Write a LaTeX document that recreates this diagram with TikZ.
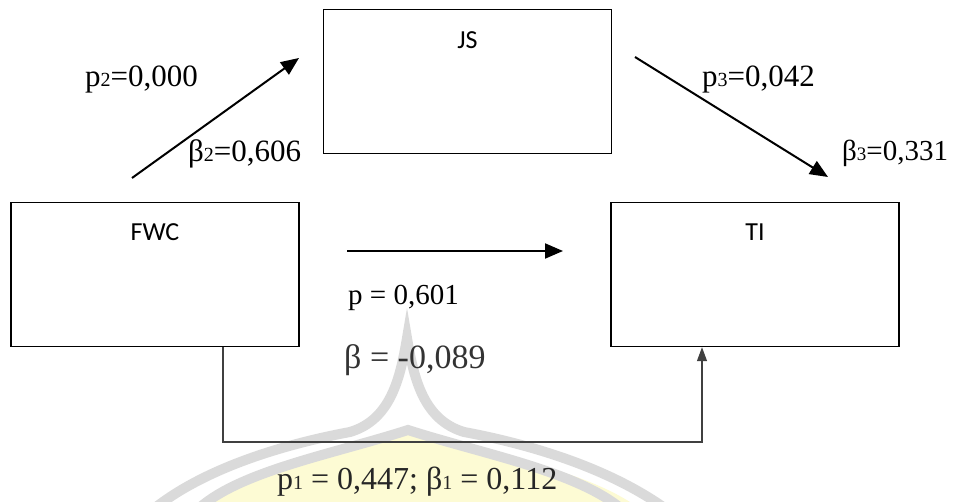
\documentclass[tikz,border=0pt]{standalone}
\usepackage{fontspec}
\setmainfont{Liberation Serif}
\newfontfamily\boxfont{Carlito}
\usetikzlibrary{arrows.meta}
\newcommand\mysub[1]{{\fontsize{20}{20}\selectfont #1}}
\definecolor{wmgray}{RGB}{218,218,218}
\definecolor{wmyellow}{RGB}{253,251,212}
\begin{document}
\begin{tikzpicture}[x=1pt,y=-1pt,
  vbox/.style={draw, line width=1.4pt, minimum width=288pt, minimum height=144pt, inner sep=0pt},
  boxlabel/.style={font=\boxfont\fontsize{26}{26}\selectfont, anchor=center, inner sep=0pt},
  lab/.style={font=\fontsize{31}{31}\selectfont, anchor=base west, inner sep=0pt},
  mainarrow/.style={line width=2pt, -{Triangle[length=18pt,width=15pt]}},
  elbow/.style={draw=black!75, line width=1.2pt, -{Triangle[length=14pt,width=10pt]}},
  wmline/.style={draw=wmgray, line width=10pt, line cap=round}
]
\useasboundingbox (0,0) rectangle (962,502);
% faint watermark
\fill[wmyellow] (200,502) .. controls (240,468) and (330,452) .. (408,432)
  .. controls (486,452) and (576,468) .. (630,502) -- cycle;
\draw[wmline] (150,512) .. controls (200,470) and (280,445) .. (350,432)
  .. controls (390,420) and (400,380) .. (407,338)
  .. controls (414,380) and (424,420) .. (464,432)
  .. controls (534,445) and (614,470) .. (670,512);
\draw[wmline] (195,512) .. controls (235,472) and (330,455) .. (408,430)
  .. controls (486,455) and (581,472) .. (625,512);
% boxes
\node[vbox, label={[boxlabel, yshift=-31pt]north:JS}] (js) at (467.5,81.5) {};
\node[vbox, label={[boxlabel, yshift=-30pt]north:FWC}] (fwc) at (155,274.5) {};
\node[vbox, label={[boxlabel, yshift=-30pt]north:TI}] (ti) at (755,274.5) {};
% arrows
\coordinate (a1s) at (132,178); \coordinate (a1e) at (299,58);
\coordinate (a2s) at (635,57);  \coordinate (a2e) at (828,177);
\coordinate (a3s) at (347,251); \coordinate (a3e) at (563,251);
\coordinate (eL) at (223,442);  \coordinate (eR) at (702,442);
\draw[mainarrow] (a1s) -- (a1e);
\draw[mainarrow] (a2s) -- (a2e);
\draw[mainarrow] (a3s) -- (a3e);
\draw[elbow] (fwc.south -| eL) -- (eL) -- (eR) -- (ti.south -| eR);
% labels
\node[lab] (p2) at (85,87) {p\mysub{2}=0,000};
\node[lab] (b2) at (188,162) {β\mysub{2}=0,606};
\node[lab] (p3) at (702,87) {p\mysub{3}=0,042};
\node[lab, font=\fontsize{29}{29}\selectfont] (b3) at (842,161) {β{\fontsize{19}{19}\selectfont 3}=0,331};
\node[lab, font=\fontsize{29}{29}\selectfont] (p0) at (348,305) {p = 0,601};
\node[lab, font=\fontsize{34}{34}\selectfont, text=black!80] (b0) at (344,369) {β = -0,089};
\node[lab, font=\fontsize{32}{32}\selectfont, text=black!85] (p1) at (277,490) {p\mysub{1} = 0,447; β\mysub{1} = 0,112};
\end{tikzpicture}
\end{document}
